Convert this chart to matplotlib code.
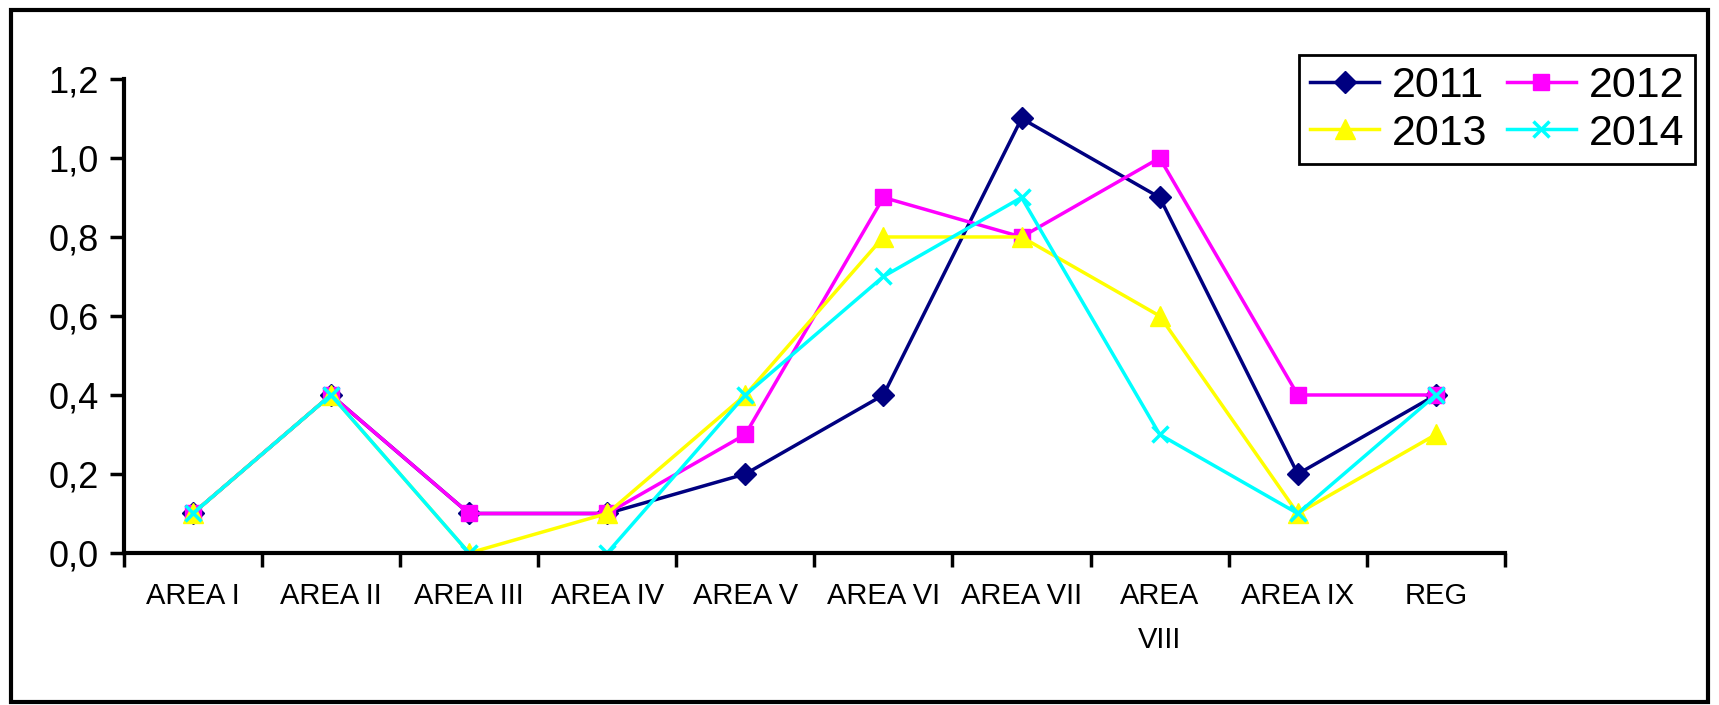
import matplotlib.pyplot as plt
from matplotlib.patches import Rectangle
from matplotlib.ticker import FuncFormatter
import numpy as np

plt.rcParams['font.family'] = ['Liberation Sans', 'DejaVu Sans']

areas = ['AREA I', 'AREA II', 'AREA III', 'AREA IV', 'AREA V', 'AREA VI',
         'AREA VII', 'AREA\nVIII', 'AREA IX', 'REG']
v2011 = [0.1, 0.4, 0.1, 0.1, 0.2, 0.4, 1.1, 0.9, 0.2, 0.4]
v2012 = [0.1, 0.4, 0.1, 0.1, 0.3, 0.9, 0.8, 1.0, 0.4, 0.4]
v2013 = [0.1, 0.4, 0.0, 0.1, 0.4, 0.8, 0.8, 0.6, 0.1, 0.3]
v2014 = [0.1, 0.4, 0.0, 0.0, 0.4, 0.7, 0.9, 0.3, 0.1, 0.4]

fig = plt.figure(figsize=(17.19, 7.05), dpi=100)
ax = fig.add_axes([0.072, 0.2156, 0.8035, 0.6724])

x = np.arange(len(areas))
l1, = ax.plot(x, v2011, color='#000080', marker='D', ms=11, lw=2.5, label='2011')
l2, = ax.plot(x, v2012, color='#FF00FF', marker='s', ms=12, lw=2.5, label='2012')
l3, = ax.plot(x, v2013, color='#FFFF00', marker='^', ms=14, lw=2.5, label='2013')
l4, = ax.plot(x, v2014, color='#00FFFF', marker='x', ms=11, mew=2.5, lw=2.5, label='2014')

ax.set_xlim(-0.5, len(areas) - 0.5)
ax.set_ylim(0, 1.2)
ax.set_yticks(np.arange(0, 1.21, 0.2))
ax.yaxis.set_major_formatter(FuncFormatter(lambda v, p: ('%.1f' % v).replace('.', ',')))

# boundary ticks without labels, labels centred on categories
ax.set_xticks(np.arange(-0.5, len(areas), 1.0))
ax.set_xticklabels([])
ax.set_xticks(x, minor=True)
ax.set_xticklabels(areas, minor=True, fontsize=21, linespacing=1.7)
ax.tick_params(axis='x', which='minor', length=0, pad=21)
ax.tick_params(axis='x', which='major', length=10, width=2.5, direction='out')
ax.tick_params(axis='y', length=10, width=2.5, direction='out', labelsize=26, pad=8)

for s in ['top', 'right']:
    ax.spines[s].set_visible(False)
for s in ['left', 'bottom']:
    ax.spines[s].set_linewidth(3)

leg = fig.legend([l1, l3, l2, l4], ['2011', '2013', '2012', '2014'], ncol=2,
                 loc='upper right', bbox_to_anchor=(0.986, 0.922), fontsize=31,
                 fancybox=False, framealpha=1, edgecolor='black',
                 handlelength=1.6, columnspacing=0.45, labelspacing=0.18,
                 handletextpad=0.3, borderpad=0.25, borderaxespad=0)
leg.get_frame().set_linewidth(2)

fig.patches.append(Rectangle((0.0065, 0.004), 0.987, 0.982, transform=fig.transFigure,
                             fill=False, edgecolor='black', lw=3))

fig.savefig('out.png', dpi=100)
